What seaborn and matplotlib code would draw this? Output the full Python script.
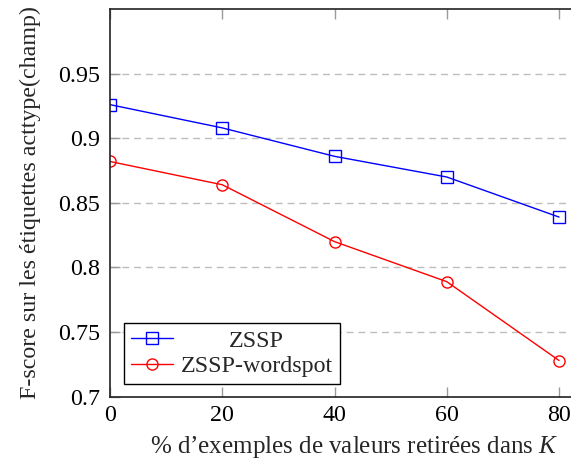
import matplotlib
matplotlib.use("Agg")
import matplotlib.pyplot as plt
import seaborn as sns
import pandas as pd

x_pct = [0, 20, 40, 60, 80]
zssp = [0.926, 0.908, 0.886, 0.870, 0.839]
zssp_wordspot = [0.882, 0.864, 0.820, 0.789, 0.728]
series_names = ["ZSSP", "ZSSP-wordspot"]
yticks = [0.7, 0.75, 0.8, 0.85, 0.9, 0.95]
ytick_labels = ["0.7", "0.75", "0.8", "0.85", "0.9", "0.95"]
xticks = [0, 20, 40, 60, 80]

df = pd.DataFrame({
    "x": x_pct * 2,
    "y": zssp + zssp_wordspot,
    "s": [series_names[0]] * len(x_pct) + [series_names[1]] * len(x_pct),
})

sns.set_theme(style="white")
plt.rcParams["font.family"] = ["Liberation Serif", "DejaVu Serif"]
plt.rcParams["mathtext.fontset"] = "custom"
plt.rcParams["mathtext.rm"] = "Liberation Serif"
plt.rcParams["mathtext.it"] = "Liberation Serif:italic"
FS = 17.3

fig = plt.figure(figsize=(5.71, 4.61), dpi=100)
# axes extends beyond the right edge of the figure (cropped like the reference)
ax = fig.add_axes([110 / 571, 1 - 396.7 / 461, (598 - 110) / 571, (396.7 - 9) / 461])

sns.lineplot(data=df, x="x", y="y", hue="s", style="s",
             palette={series_names[0]: "#0000ff", series_names[1]: "#ff0000"},
             markers={series_names[0]: "s", series_names[1]: "o"},
             dashes=False, linewidth=1.0, markersize=8,
             markerfacecolor="none", markeredgewidth=1.0,
             ax=ax, legend=False)

for line in ax.lines:
    line.set_markerfacecolor("none")
    line.set_markeredgecolor(line.get_color())

ax.set_xlim(0, 86.94)
ax.set_ylim(0.7, 1.0)
ax.set_xticks(xticks)
ax.set_xticklabels([str(v) for v in xticks])
ax.set_yticks(yticks)
ax.set_yticklabels(ytick_labels)
ax.grid(axis="y", color="#bdbdbd", linestyle=(0, (5, 3.5)), linewidth=1.0)
ax.grid(axis="x", visible=False)
ax.set_axisbelow(True)

for side in ["left", "bottom", "top"]:
    ax.spines[side].set_visible(True)
    ax.spines[side].set_color("#222222")
    ax.spines[side].set_linewidth(1.2)
ax.spines["right"].set_visible(False)

ax.tick_params(axis="both", which="major", direction="in", length=7.5, width=1.0,
               color="#9a9a9a", labelsize=FS, labelcolor="black", top=True,
               bottom=True, left=True, right=False)
ax.tick_params(axis="x", pad=6)
ax.tick_params(axis="y", pad=7)

ax.set_xlabel("% d\u2019exemples de valeurs retir\u00e9es dans $K$", fontsize=18, labelpad=6)
ax.set_ylabel("F-score sur les \u00e9tiquettes acttype(champ)", fontsize=FS, labelpad=12)

handles = ax.lines[:2]
leg = ax.legend(handles, series_names, loc="lower left",
                bbox_to_anchor=((124 - 110) / (598 - 110), 0.032),
                borderaxespad=0, fontsize=FS, frameon=True, fancybox=False,
                edgecolor="black", framealpha=1, handlelength=1.75, handletextpad=0.3,
                labelspacing=0.15, borderpad=0.3)
leg.get_frame().set_linewidth(1.0)

fig.canvas.draw()
r = fig.canvas.get_renderer()
texts = leg.get_texts()
widths = [t.get_window_extent(r).width for t in texts]
wmax = max(widths)
for t, w in zip(texts, widths):
    t.set_x((wmax - w) / 2)

fig.savefig("out.png", dpi=100)
